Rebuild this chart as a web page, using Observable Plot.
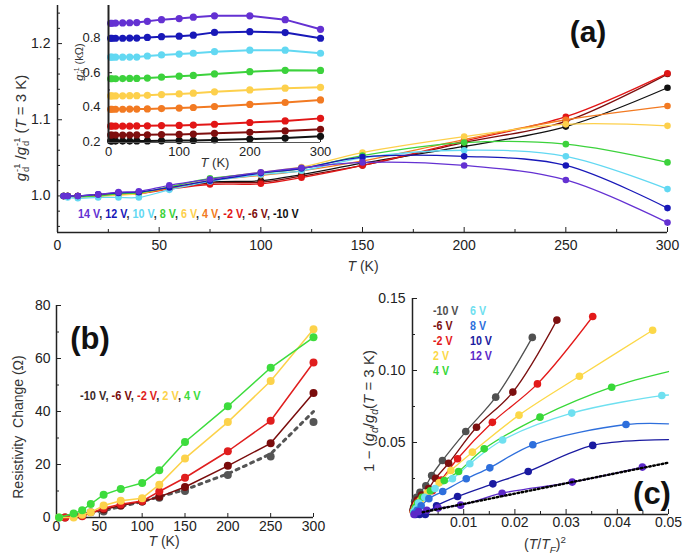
<!DOCTYPE html>
<html><head><meta charset="utf-8">
<script src="https://cdn.jsdelivr.net/npm/d3@7"></script>
<script src="https://cdn.jsdelivr.net/npm/@observablehq/plot@0.6"></script>
<style>
body{margin:0;background:#fff;}
#fig{position:relative;width:685px;height:560px;overflow:hidden;font-family:"Liberation Sans",Arial,sans-serif;color:#222;}
.lbl{position:absolute;white-space:nowrap;line-height:1;}
.ss{display:inline-block;vertical-align:middle;font-size:62%;line-height:0.95;margin-left:1px;}
.ss span{display:block;}
.leg{position:absolute;white-space:nowrap;font-weight:bold;font-size:13px;transform-origin:0 50%;line-height:1;}
</style>
</head><body>
<div id="fig"></div>
<script>
// ---------- Panel (a): main, normalized g_d^-1 ----------
const T_A = [3,5,10,20,30,40,55,75,100,120,150,200,250,300];
const A_14V  = [1.0,1.0,1.0,1.002,1.005,1.006,1.014,1.022,1.031,1.037,1.044,1.040,1.021,0.965];
const A_12V  = [1.0,1.0,1.0,1.002,1.004,1.005,1.011,1.020,1.030,1.036,1.051,1.052,1.040,0.984];
const A_10V  = [1.0,0.998,0.997,0.998,0.998,0.998,1.008,1.019,1.028,1.033,1.050,1.060,1.052,1.009];
const A_8V   = [1.0,1.0,0.999,1.0,1.003,1.004,1.012,1.023,1.030,1.036,1.053,1.070,1.068,1.044];
const A_6V   = [1.0,0.999,0.998,0.999,1.001,1.003,1.012,1.022,1.031,1.038,1.057,1.078,1.094,1.092];
const A_4V   = [1.0,1.0,0.999,1.0,1.002,1.003,1.010,1.020,1.027,1.033,1.046,1.074,1.100,1.118];
const A_m2V  = [1.0,1.0,1.0,1.001,1.002,1.003,1.009,1.015,1.016,1.024,1.040,1.072,1.104,1.161];
const A_m6V  = [1.0,1.0,1.0,1.001,1.003,1.004,1.010,1.017,1.018,1.026,1.040,1.070,1.098,1.160];
const A_m10V = [1.0,1.0,1.0,1.001,1.003,1.004,1.010,1.018,1.020,1.028,1.043,1.065,1.091,1.142];
// ---------- Panel (a) inset: g_d^-1 (kOhm) ----------
const IN_14V  = [0.887,0.887,0.888,0.889,0.890,0.891,0.898,0.908,0.914,0.922,0.930,0.930,0.908,0.852];
const IN_12V  = [0.800,0.800,0.800,0.800,0.801,0.801,0.805,0.809,0.812,0.818,0.834,0.838,0.833,0.800];
const IN_10V  = [0.690,0.690,0.690,0.690,0.691,0.691,0.697,0.703,0.708,0.713,0.722,0.731,0.731,0.713];
const IN_8V   = [0.565,0.565,0.565,0.566,0.567,0.567,0.569,0.574,0.580,0.584,0.593,0.606,0.614,0.613];
const IN_6V   = [0.465,0.465,0.465,0.466,0.467,0.467,0.469,0.473,0.477,0.481,0.489,0.500,0.510,0.515];
const IN_4V   = [0.388,0.388,0.388,0.388,0.389,0.389,0.390,0.392,0.395,0.398,0.404,0.416,0.427,0.442];
const IN_m2V  = [0.290,0.290,0.290,0.290,0.290,0.291,0.292,0.293,0.294,0.296,0.301,0.311,0.320,0.335];
const IN_m6V  = [0.238,0.238,0.238,0.238,0.238,0.239,0.240,0.241,0.242,0.244,0.248,0.254,0.262,0.272];
const IN_m10V = [0.203,0.203,0.203,0.203,0.203,0.204,0.204,0.205,0.206,0.207,0.210,0.215,0.221,0.231];
const A_LABELS = ["14 V","12 V","10 V","8 V","6 V","4 V","-2 V","-6 V","-10 V"];
const A_COLORS = ["#6431d2","#1818b8","#62d8f2","#3cd23c","#fdd04c","#f27a22","#e21616","#7e0e0e","#111111"];

// ---------- Panel (b): resistivity change ----------
const B_4V_T  = [3,20,30,40,55,75,100,120,150,200,250,300];
const B_4V    = [0,1.5,2.7,5.1,8.6,10.8,13,17.8,28.5,42,56.5,68];
const B_2V_T  = [3,20,30,40,55,75,100,120,150,200,250,300];
const B_2V    = [0,0,1,2,4.5,6.3,7.3,12.4,22.3,36,51.5,71];
const B_m2V_T = [10,30,55,75,100,120,150,200,250,300];
const B_m2V   = [0,0.5,3.5,5,6.2,9.8,15,25,36.5,58.5];
const B_m6V_T = [10,30,55,75,100,120,150,200,250,300];
const B_m6V   = [0,0.8,3,4.5,6,7.8,11.5,19.5,28,47];
const B_m10V_T = [40,55,75,100,120,150,200,250,300];
const B_m10V   = [2,2.3,4.5,6,7.5,10,16,23,36];
const B_FIT_T = [3,55,100,150,200,250,300];
const B_FIT   = [0,2.6,6,10.5,16.5,24,40];
const B_LABELS = ["-10 V","-6 V","-2 V","2 V","4 V"];
const B_COLORS = ["#555555","#7a0c0c","#e01e1e","#fcd24a","#3ddc3d"];

// ---------- Panel (c): 1 - g_d/g_d(3K) vs (T/T_F)^2 ----------
const C_m10V_X = [0.0001,0.00023,0.00042,0.00079,0.00146,0.0026,0.00374,0.00585,0.0104,0.01625,0.0234];
const C_m10V_Y = [0.003,0.005,0.009,0.012,0.0155,0.020,0.027,0.0375,0.0576,0.0815,0.123];
const C_m6V_X  = [0.00013,0.0003,0.0005,0.00095,0.00176,0.00313,0.00451,0.00705,0.0125,0.0196,0.0282];
const C_m6V_Y  = [0.003,0.005,0.007,0.010,0.0135,0.018,0.0252,0.0356,0.0606,0.085,0.135];
const C_m2V_X  = [0.00016,0.00035,0.00063,0.00118,0.0022,0.0039,0.00563,0.0088,0.0156,0.0244,0.0352];
const C_m2V_Y  = [0.002,0.004,0.006,0.009,0.012,0.0165,0.024,0.0387,0.064,0.0907,0.1375];
const C_2V_X   = [0.0002,0.00047,0.00083,0.0016,0.0029,0.0052,0.0075,0.0117,0.0208,0.0326,0.0469];
const C_2V_Y   = [0.002,0.004,0.007,0.010,0.015,0.022,0.0306,0.0433,0.069,0.096,0.128];
const C_4V_X   = [0.00025,0.00056,0.001,0.0019,0.0035,0.0062,0.009,0.014,0.0249,0.0389];
const C_4V_Y   = [0.002,0.005,0.008,0.012,0.0165,0.0236,0.0299,0.0456,0.0676,0.0884];
const C_6V_X   = [0.0003,0.0007,0.0012,0.0024,0.0044,0.0078,0.0112,0.0176,0.0311,0.0487];
const C_6V_Y   = [0.002,0.004,0.008,0.012,0.018,0.0248,0.0352,0.0517,0.0704,0.0826];
const C_8V_X   = [0.00042,0.00093,0.0017,0.0032,0.0059,0.0105,0.0151,0.0235,0.0417];
const C_8V_Y   = [0.001,0.003,0.006,0.011,0.016,0.0248,0.0324,0.0484,0.0625];
const C_10V_X  = [0.0006,0.0014,0.0025,0.0047,0.0088,0.0157,0.0226,0.0352];
const C_10V_Y  = [0.0,0.0,0.0,0.006,0.0125,0.0213,0.0299,0.048];
const C_12V_X  = [0.0003,0.0012,0.0028,0.005,0.0094,0.0175,0.0312,0.0449];
const C_12V_Y  = [0.0,0.002,0.003,0.0045,0.0065,0.0148,0.0225,0.0329];
// fitted curves continue to the right edge for some gate voltages
const C_END_X = 0.05;
const C_4V_END = 0.0993, C_6V_END = 0.083, C_8V_END = 0.063, C_10V_END = 0.052;
const C_DOT_X = [0.002,0.05];
const C_DOT_Y = [0.0016,0.036];
const C_LABELS = ["-10 V","-6 V","-2 V","2 V","4 V","6 V","8 V","10 V","12 V"];
const C_COLORS = ["#505050","#7c1010","#e31a1a","#fcd848","#38d838","#6fe0f0","#2e6fdc","#1a1aa0","#5b28c8"];

// ---------- helpers ----------
const fig = document.getElementById("fig");
const pts = (xs, ys) => xs.map((x,i)=>({x, y: ys[i]}));
const FONT = "Liberation Sans, Arial, sans-serif";
function place(node, left, top){ node.style.position="absolute"; node.style.left=left+"px"; node.style.top=top+"px"; fig.appendChild(node); }
function label(html, x, y, css="", rot=false){
  const d=document.createElement("div"); d.className="lbl"; d.innerHTML=html;
  d.style.cssText += css;
  d.style.left=x+"px"; d.style.top=y+"px";
  d.style.transform = "translate(-50%,-50%)"+(rot?" rotate(-90deg)":"");
  fig.appendChild(d);
}
function legendRow(items, x, y, scale, sep=", "){
  const d=document.createElement("div"); d.className="leg";
  d.innerHTML = items.map(([t,c])=>`<span style="color:${c}">${t}</span>`).join(`<span style="color:#333">${sep}</span>`);
  d.style.left=x+"px"; d.style.top=y+"px"; d.style.transform=`translate(0,-50%) scaleX(${scale})`;
  fig.appendChild(d);
}
const baseStyle = {fontFamily: FONT, fontSize:"13px", color:"#222", background:"transparent", overflow:"visible"};

// ---------- Panel (a) main ----------
const aMain = [A_m10V,A_m6V,A_m2V,A_4V,A_6V,A_8V,A_10V,A_12V,A_14V];
const aColorsRev = A_COLORS.slice().reverse();
const aMarks = [];
aMain.forEach((vals,i)=>{
  aMarks.push(Plot.line(pts(T_A, vals),{x:"x",y:"y",stroke:aColorsRev[i],strokeWidth:1.3,curve:"catmull-rom"}));
});
aMain.forEach((vals,i)=>{
  aMarks.push(Plot.dot(pts(T_A, vals),{x:"x",y:"y",fill:aColorsRev[i],r:3.3}));
});
const plotA = Plot.plot({
  width:685, height:280, marginLeft:57, marginRight:18, marginTop:5, marginBottom:48,
  style: baseStyle,
  x:{domain:[0,300]}, y:{domain:[0.952,1.25]},
  marks:[
    Plot.axisX([25,75,125,175,225,275],{tickSize:-3, tickFormat:()=>"", label:null}),
    Plot.axisX([0,50,100,150,200,250,300],{tickSize:-5, tickPadding:13, fontSize:14, label:null}),
    Plot.axisY([0.96,0.98,1.02,1.04,1.06,1.08,1.12,1.14,1.16,1.18,1.22,1.24],{tickSize:-3, tickFormat:()=>"", label:null}),
    Plot.axisY([1.0,1.1,1.2],{tickSize:-5, tickPadding:12, fontSize:14, tickFormat:d3.format(".1f"), label:null}),
    Plot.ruleX([0],{strokeWidth:1.5}),
    Plot.ruleY([0.952],{strokeWidth:1.5}),
    ...aMarks
  ]
});
place(plotA, 0, 0);

// ---------- Panel (a) inset ----------
const inVals = [IN_m10V,IN_m6V,IN_m2V,IN_4V,IN_6V,IN_8V,IN_10V,IN_12V,IN_14V];
const inMarks = [];
inVals.forEach((vals,i)=>{
  inMarks.push(Plot.line(pts(T_A, vals),{x:"x",y:"y",stroke:aColorsRev[i],strokeWidth:2}));
  inMarks.push(Plot.dot(pts(T_A, vals),{x:"x",y:"y",fill:aColorsRev[i],r:3.6}));
});
const plotIn = Plot.plot({
  width:270, height:175, marginLeft:48, marginRight:10, marginTop:5, marginBottom:33,
  style: {...baseStyle, fontSize:"13px"},
  x:{domain:[0,300]}, y:{domain:[0.195,0.99]},
  marks:[
    Plot.axisX([0,100,200,300],{tickSize:-4, tickPadding:8, label:null}),
    Plot.axisX([50,150,250],{tickSize:-2, tickFormat:()=>"", label:null}),
    Plot.axisY([0.2,0.4,0.6,0.8],{tickSize:-4, tickPadding:12, tickFormat:d3.format(".1f"), label:null}),
    Plot.axisY([0.3,0.5,0.7,0.9],{tickSize:-2, tickFormat:()=>"", label:null}),
    ...inMarks,
    Plot.ruleX([0],{strokeWidth:2}),
    Plot.ruleY([0.195],{strokeWidth:1.2, stroke:"#555"})
  ]
});
place(plotIn, 60, 0);

// ---------- Panel (b) ----------
const bSets = [[B_m6V_T,B_m6V,B_COLORS[1]],[B_m2V_T,B_m2V,B_COLORS[2]],[B_2V_T,B_2V,B_COLORS[3]],[B_4V_T,B_4V,B_COLORS[4]]];
const bMarks = [
  Plot.line(pts(B_FIT_T,B_FIT),{x:"x",y:"y",stroke:B_COLORS[0],strokeWidth:3,strokeDasharray:"3,5"}),
  Plot.dot(pts(B_m10V_T,B_m10V),{x:"x",y:"y",fill:B_COLORS[0],r:4})
];
bSets.forEach(([t,v,c])=>{
  bMarks.push(Plot.line(pts(t,v),{x:"x",y:"y",stroke:c,strokeWidth:1.5}));
  bMarks.push(Plot.dot(pts(t,v),{x:"x",y:"y",fill:c,r:4}));
});
const plotB = Plot.plot({
  width:340, height:280, marginLeft:56, marginRight:27, marginTop:25, marginBottom:43,
  style: baseStyle,
  x:{domain:[0,300]}, y:{domain:[0,80]},
  marks:[
    Plot.axisX([0,50,100,150,200,250,300],{tickSize:-4, tickPadding:8, fontSize:14, label:null}),
    Plot.axisY([0,20,40,60,80],{tickSize:-5, tickPadding:11, fontSize:14, label:null}),
    Plot.axisY([10,30,50,70],{tickSize:-3, tickFormat:()=>"", label:null}),
    Plot.ruleX([0],{strokeWidth:1.5}),
    Plot.ruleY([0],{strokeWidth:1.5}),
    ...bMarks
  ]
});
place(plotB, 0, 280);

// ---------- Panel (c) ----------
const cSets = [
  [C_m10V_X,C_m10V_Y,null],[C_m6V_X,C_m6V_Y,null],[C_m2V_X,C_m2V_Y,null],[C_2V_X,C_2V_Y,null],
  [C_4V_X,C_4V_Y,C_4V_END],[C_6V_X,C_6V_Y,C_6V_END],[C_8V_X,C_8V_Y,C_8V_END],[C_10V_X,C_10V_Y,C_10V_END],[C_12V_X,C_12V_Y,null]
];
const cMarks = [];
cSets.forEach(([xs,ys,end],i)=>{
  const ld = [{x:0,y:0}, ...pts(xs,ys)];
  if(end!==null) ld.push({x:C_END_X,y:end});
  cMarks.push(Plot.line(ld,{x:"x",y:"y",stroke:C_COLORS[i],strokeWidth:1.3,curve:"catmull-rom"}));
});
cSets.forEach(([xs,ys],i)=>{
  cMarks.push(Plot.dot(pts(xs,ys),{x:"x",y:"y",fill:C_COLORS[i],r:3.8}));
});
cMarks.push(Plot.line(pts(C_DOT_X,C_DOT_Y),{x:"x",y:"y",stroke:"#000",strokeWidth:2.4,strokeDasharray:"1.6,2.6"}));
const plotC = Plot.plot({
  width:345, height:280, marginLeft:72, marginRight:17, marginTop:18, marginBottom:46,
  style: baseStyle,
  x:{domain:[0,0.05]}, y:{domain:[0,0.15]},
  marks:[
    Plot.axisX([0.01,0.02,0.03,0.04,0.05],{tickSize:-5, tickPadding:8, fontSize:14, tickFormat:d3.format(".2f"), label:null}),
    Plot.axisX([0.005,0.015,0.025,0.035,0.045],{tickSize:-3, tickFormat:()=>"", label:null}),
    Plot.axisY([0.05,0.10,0.15],{tickSize:-5, tickPadding:12, fontSize:14, tickFormat:d3.format(".2f"), label:null}),
    Plot.axisY([0.025,0.075,0.125],{tickSize:-3, tickFormat:()=>"", label:null}),
    Plot.ruleX([0],{strokeWidth:1.5}),
    Plot.ruleY([0],{strokeWidth:1.5}),
    ...cMarks
  ]
});
place(plotC, 340, 280);

// ---------- Text: titles, panel letters, legends ----------
const gdm1 = `<i>g</i><span class="ss"><span>-1</span><span>d</span></span>`;
label(`${gdm1} /${gdm1} (<i>T</i> = 3 K)`, 22, 128, "font-size:15px;color:#333;", true);
label(`<i>T</i> (K)`, 363, 266, "font-size:14px;color:#333;");
label(`<i>T</i> (K)`, 215, 162, "font-size:13px;color:#333;");
label(`${gdm1} (kΩ)`, 80, 62, "font-size:11px;color:#333;", true);
label(`(a)`, 588, 32, "font-weight:bold;font-size:30px;color:#111;");
legendRow(A_LABELS.map((t,i)=>[t,A_COLORS[i]]), 78, 213, 0.83);

label(`Resistivity&nbsp; Change (Ω)`, 18, 427, "font-size:14px;color:#333;", true);
label(`<i>T</i> (K)`, 164, 541, "font-size:14px;color:#333;");
label(`(b)`, 90, 338, "font-weight:bold;font-size:31px;color:#111;");
legendRow(B_LABELS.map((t,i)=>[t, i===0?"#3a2a2a":B_COLORS[i]]), 80, 395, 0.85);

label(`1 − (<i>g<sub style="font-size:70%">d</sub></i>/<i>g<sub style="font-size:70%">d</sub></i>(<i>T</i> = 3 K)`, 370, 411, "font-size:15px;color:#333;", true);
label(`(<i>T</i>/<i>T<sub style="font-size:70%">F</sub></i>)<sup style="font-size:70%">2</sup>`, 545, 545, "font-size:14px;color:#333;");
label(`(c)`, 652, 493, "font-weight:bold;font-size:31px;color:#111;");
const colX = [433, 470], rowY = [310, 325, 340, 355, 370];
C_LABELS.forEach((t,i)=>{
  const col = i<5?0:1, row = i<5?i:i-5;
  legendRow([[t,C_COLORS[i]]], colX[col], rowY[row], 0.82, "");
});
</script>
</body></html>
